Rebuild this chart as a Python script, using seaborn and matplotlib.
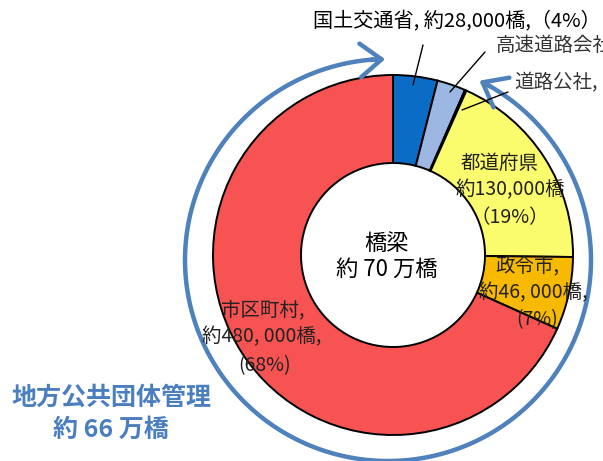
import numpy as np
import matplotlib
matplotlib.use("Agg")
import matplotlib.pyplot as plt
import seaborn as sns
from matplotlib.patches import FancyArrowPatch

sns.set_theme(style="white")
plt.rcParams['font.family'] = ['Noto Sans CJK JP', 'DejaVu Sans']

# ---- data ----
categories = ["国土交通省", "高速道路会社", "道路公社", "都道府県", "政令市", "市区町村"]
bridges = [28000, 18000, 1000, 130000, 46000, 480000]
colors_hex = ["#0B6CC6", "#9CB8E2", "#F7F76A", "#FBFB6E", "#F8BA00", "#F75352"]
center_title = ["橋梁", "約 70 万橋"]
local_title = ["地方公共団体管理", "約 66 万橋"]

W, H = 603, 461
fig = plt.figure(figsize=(W / 100, H / 100), dpi=100)
ax = fig.add_axes([0, 0, 1, 1])

palette = sns.color_palette(colors_hex)

cx, cy = 393, H - 255
R = 180
ax.pie(bridges, colors=palette, startangle=90, counterclock=False,
       radius=R, center=(cx, cy),
       wedgeprops=dict(width=88, edgecolor="black", linewidth=1.4))
ax.set_xlim(0, W)
ax.set_ylim(0, H)
ax.set_aspect("equal")
ax.axis("off")

def P(x, y):
    return (x, H - y)

# ---- blue arc with arrows ----
arc_col = "#4F81BD"
acx, acy = 388, H - 260
arx, ary = 203, 201
t = np.radians(np.linspace(93, 63 + 360 - 2, 400))
ax.plot(acx + arx * np.cos(t), acy + ary * np.sin(t), color=arc_col, lw=3.2,
        solid_capstyle="butt", zorder=1)
for a0, a1 in [(96, 90), (63 + 360 - 4, 63 + 360 + 1)]:
    p0 = (acx + arx * np.cos(np.radians(a0)), acy + ary * np.sin(np.radians(a0)))
    p1 = (acx + arx * np.cos(np.radians(a1)), acy + ary * np.sin(np.radians(a1)))
    ax.add_patch(FancyArrowPatch(p0, p1, arrowstyle="->,head_length=0.7,head_width=0.55",
                                 mutation_scale=22, color=arc_col, lw=3.2, zorder=1))

# ---- outside labels with leader lines ----
txt_col = "#222222"
ax.text(*P(313, 22), "国土交通省, 約28,000橋,（4%）", fontsize=14.5, color="black",
        ha="left", va="center")
ax.plot(*zip(P(423, 45), P(413, 85)), color="black", lw=1)
ax.text(*P(496, 46), "高速道路会社", fontsize=14, color="#333333",
        ha="left", va="center", clip_on=True)
ax.plot(*zip(P(485, 52), P(450, 92)), color="black", lw=1)
ax.text(*P(514, 83), "道路公社,", fontsize=14, color="#333333",
        ha="left", va="center", clip_on=True)
ax.plot(*zip(P(508, 92), P(462, 110)), color="black", lw=1)

# ---- wedge labels ----
labels = [
    (P(500, 163), "都道府県"), (P(510, 190), "約130,000橋"), (P(510, 218), "（19%）"),
    (P(527, 267), "政令市,"), (P(533, 293), "約46, 000橋,"), (P(537, 320), "(7%)"),
    (P(263, 310), "市区町村,"), (P(262, 337), "約480, 000橋,"), (P(265, 366), "(68%)"),
]
for (x, y), s in labels:
    ax.text(x, y, s, fontsize=14, color=txt_col, ha="center", va="center")

# ---- centre text ----
ax.text(*P(387, 244), center_title[0], fontsize=16, color="black", ha="center", va="center")
ax.text(*P(387, 269), center_title[1], fontsize=16, color="black", ha="center", va="center")

# ---- local government total ----
ax.text(*P(111, 398), local_title[0], fontsize=18, color="#4A7EBF", fontweight="bold",
        ha="center", va="center")
ax.text(*P(111, 430), local_title[1], fontsize=18, color="#4A7EBF", fontweight="bold",
        ha="center", va="center")

fig.savefig("out.png", dpi=100)
